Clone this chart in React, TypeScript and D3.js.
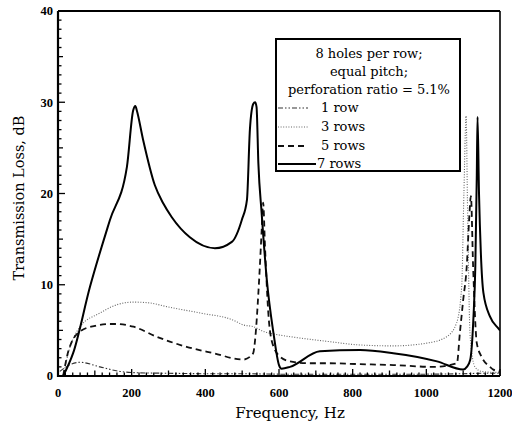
import React from "react";
import * as d3 from "d3";

// ---- Data ----
const freq1 = [5, 30, 60, 114, 168, 220, 300, 400, 500, 600, 700, 800, 900, 1000, 1100, 1150, 1200];
const tl1 = [0.5, 1.2, 1.5, 1.0, 0.5, 0.35, 0.3, 0.25, 0.25, 0.2, 0.2, 0.2, 0.2, 0.2, 0.25, 0.3, 0.3];

const freq3 = [14, 30, 60, 114, 159, 205, 250, 295, 386, 477, 503, 531, 557, 600, 650, 730, 820, 910, 1001, 1055, 1082, 1096, 1102, 1108, 1112, 1119, 1132, 1150, 1185, 1200];
const tl3 = [0, 2.8, 5.4, 6.9, 7.8, 8.1, 8.0, 7.6, 6.9, 6.1, 5.6, 5.4, 4.9, 4.5, 4.2, 3.8, 3.4, 3.3, 3.6, 4.3, 5.8, 9.8, 20, 28.5, 18, 4.3, 1.0, 0.5, 0.4, 0.4];

const freq5 = [14, 28, 60, 100, 141, 160, 205, 268, 349, 422, 503, 521, 530, 535, 544, 548, 553, 557, 562, 571, 580, 603, 630, 680, 730, 820, 910, 1018, 1083, 1091, 1100, 1110, 1116, 1121, 1127, 1137, 1150, 1173, 1182, 1200];
const tl5 = [0, 2.7, 4.9, 5.5, 5.7, 5.7, 5.4, 4.3, 3.2, 2.5, 1.8, 2.1, 2.5, 3.9, 9.1, 12, 16, 19, 14.2, 6.9, 3.9, 2.1, 1.6, 1.4, 1.4, 1.3, 1.2, 1.0, 1.4, 4.7, 8.3, 12.2, 17, 19.7, 12, 3.6, 2.1, 1.0, 0.7, 0.5];

const freq7 = [14, 41, 87, 141, 187, 204, 210, 214, 231, 263, 286, 309, 358, 426, 472, 499, 513, 521, 530, 535, 539, 544, 553, 567, 585, 600, 607, 630, 711, 820, 910, 1029, 1100, 1110, 1119, 1128, 1133, 1137, 1139, 1143, 1148, 1155, 1173, 1196, 1200];
const tl7 = [0, 2.5, 9.8, 17.1, 22.9, 29.1, 29.6, 29.1, 25.9, 20.9, 18.9, 17.4, 15.2, 14.0, 14.7, 17.1, 19.3, 27, 29.8, 30, 29.5, 23.3, 17.8, 10.5, 4.7, 1.2, 0.8, 1.0, 2.7, 2.85, 2.5, 1.6, 0.7, 1.0, 1.75, 6.5, 12, 22, 28.4, 20, 13.5, 9.1, 6.5, 5.2, 5.0];

const xTickValues = [0, 200, 400, 600, 800, 1000, 1200];
const yTickValues = [0, 10, 20, 30, 40];

const legendTitle = ["8 holes per row;", "equal pitch;", "perforation ratio = 5.1%"];
const seriesNames = ["1 row", "3 rows", "5 rows", "7 rows"];

const series = [
  { name: seriesNames[0], f: freq1, v: tl1, dash: "5,2,1.5,2,1.5,2", width: 1.1, color: "#333" },
  { name: seriesNames[1], f: freq3, v: tl3, dash: "1,1.6", width: 1.1, color: "#666" },
  { name: seriesNames[2], f: freq5, v: tl5, dash: "6,4", width: 1.8, color: "#111" },
  { name: seriesNames[3], f: freq7, v: tl7, dash: null as string | null, width: 2, color: "#000" },
];

export default function App() {
  const W = 512, H = 430;
  const left = 58, right = 500, top = 11, bottom = 376;
  const x = d3.scaleLinear().domain([0, 1200]).range([left, right]);
  const y = d3.scaleLinear().domain([0, 40]).range([bottom, top]);

  const serif = "'Liberation Serif', 'Times New Roman', serif";
  const legendFont = "'DejaVu Serif', serif";

  const minorX = d3.range(0, 1201, 20);
  const minorY = d3.range(0, 41, 1);

  const lineGen = (f: number[], v: number[]) =>
    d3.line<number>()
      .x((_, i) => x(f[i]))
      .y((d) => y(d))
      .curve(d3.curveMonotoneX)(v) || "";

  const lg = { x0: 276, y0: 39, x1: 460, y1: 171 };
  const titleBase = [58, 76, 94];
  const entryBase = [112, 131, 150, 168];

  return (
    <svg width={W} height={H} style={{ position: "absolute", left: 0, top: 0, background: "#fff" }}>
      <defs>
        <clipPath id="plot">
          <rect x={left} y={top} width={right - left} height={bottom - top} />
        </clipPath>
      </defs>
      {/* series */}
      <g clipPath="url(#plot)">
        {series.map((s) => (
          <path
            key={s.name}
            d={lineGen(s.f, s.v)}
            fill="none"
            stroke={s.color}
            strokeWidth={s.width}
            strokeDasharray={s.dash || undefined}
            strokeLinejoin="round"
          />
        ))}
      </g>

      {/* ticks */}
      {minorY.map((t) => {
        const len = t % 10 === 0 ? 7 : t % 5 === 0 ? 5 : 3.5;
        return <line key={"yt" + t} x1={left} x2={left + len} y1={y(t)} y2={y(t)} stroke="#000" strokeWidth={1.3} />;
      })}
      {minorX.map((t) => {
        const len = t % 200 === 0 ? 7 : t % 100 === 0 ? 5.5 : 3.5;
        return <line key={"xt" + t} x1={x(t)} x2={x(t)} y1={bottom} y2={bottom - len} stroke="#000" strokeWidth={1.3} />;
      })}

      {/* frame */}
      <line x1={left} x2={right} y1={top} y2={top} stroke="#000" strokeWidth={2} />
      <line x1={right} x2={right} y1={top} y2={bottom} stroke="#000" strokeWidth={1.6} />
      <line x1={left} x2={left} y1={top} y2={bottom + 1} stroke="#000" strokeWidth={2.2} />
      <line x1={left - 1} x2={right} y1={bottom} y2={bottom} stroke="#000" strokeWidth={2.2} />

      {/* tick labels */}
      {yTickValues.map((t) => (
        <text key={"yl" + t} x={left - 5} y={y(t)} dy="0.35em" textAnchor="end"
          fontFamily={serif} fontSize={12.5} fontWeight="bold">{t}</text>
      ))}
      {xTickValues.map((t) => (
        <text key={"xl" + t} x={x(t)} y={bottom + 21} textAnchor="middle"
          fontFamily={serif} fontSize={12.5} fontWeight="bold">{t}</text>
      ))}

      {/* axis titles */}
      <text x={290} y={418} textAnchor="middle" fontFamily={legendFont} fontSize={15}>Frequency, Hz</text>
      <text transform={`translate(24,198) rotate(-90)`} textAnchor="middle" fontFamily={legendFont} fontSize={14.5}>
        Transmission Loss, dB
      </text>

      {/* legend */}
      <rect x={lg.x0} y={lg.y0} width={lg.x1 - lg.x0} height={lg.y1 - lg.y0} fill="#fff" stroke="#000" strokeWidth={2} />
      {legendTitle.map((t, i) => (
        <text key={"lt" + i} x={(lg.x0 + lg.x1) / 2 + 1} y={titleBase[i]} textAnchor="middle"
          fontFamily={legendFont} fontSize={13}>{t}</text>
      ))}
      {series.map((s, i) => (
        <g key={"le" + i}>
          <line x1={lg.x0 + 2} x2={i === 3 ? lg.x0 + 40 : lg.x0 + 32} y1={entryBase[i] - 4} y2={entryBase[i] - 4}
            stroke={s.color} strokeWidth={s.width} strokeDasharray={s.dash || undefined} />
          <text x={i === 3 ? lg.x0 + 41 : lg.x0 + 45} y={entryBase[i]} fontFamily={legendFont} fontSize={13}>{s.name}</text>
        </g>
      ))}
    </svg>
  );
}
